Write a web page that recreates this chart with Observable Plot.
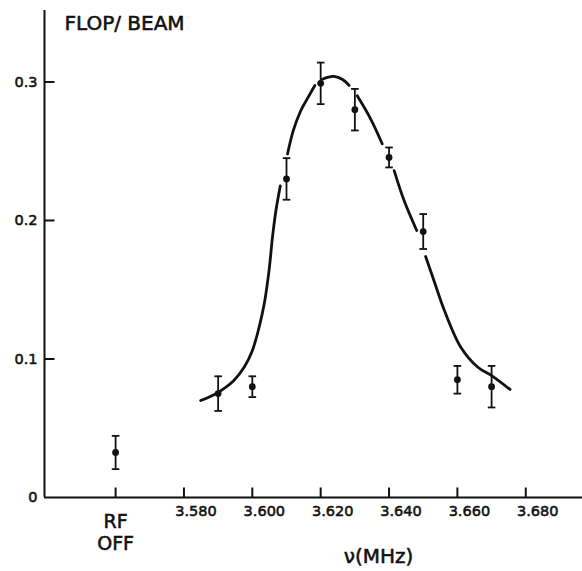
<!DOCTYPE html>
<html><head><meta charset="utf-8">
<script src="https://cdn.jsdelivr.net/npm/d3@7"></script>
<script src="https://cdn.jsdelivr.net/npm/@observablehq/plot@0.6"></script>
<style>
html,body{margin:0;padding:0;background:#fff;}
#chart svg{display:block;}
#chart svg text{stroke:#111;stroke-width:0.55px;}
</style></head><body><div id="chart"></div>
<script>
// ---- data ----
const rfOffPosition = 3.560;   // where the "RF OFF" point is placed on the axis
const rfOffFlop = 0.0325;
const rfOffErr = 0.012;

const freqs = [3.590, 3.600, 3.610, 3.620, 3.630, 3.640, 3.650, 3.660, 3.670];
const flops = [0.075, 0.080, 0.230, 0.299, 0.280, 0.2455, 0.192, 0.085, 0.080];
const errs  = [0.0125, 0.0075, 0.015, 0.015, 0.015, 0.0072, 0.0126, 0.010, 0.015];

// fitted curve (null = pen lifted near a data point)
const curveFreq = [3.5849, 3.5897, 3.5946, 3.5976, 3.6000, 3.6020, 3.6035, 3.6049, 3.6059, 3.6069, 3.6082,
  3.6092, 3.6103, 3.6120, 3.6142, 3.6161, 3.6183, 3.6194, 3.6205, 3.6222, 3.6239, 3.6264, 3.6283,
  3.6295, 3.6307, 3.6346, 3.6380, 3.6398, 3.6415, 3.6444, 3.6481, 3.6494, 3.6507, 3.6535, 3.6562,
  3.6610, 3.6660, 3.6700, 3.6754];
const curveFlop = [0.070, 0.0755, 0.0845, 0.094, 0.106, 0.123, 0.140, 0.164, 0.188, 0.207, 0.225,
  null, 0.248, 0.265, 0.2794, 0.288, 0.2975, null, 0.302, 0.3035, 0.304, 0.3018, 0.2975,
  null, 0.290, 0.2734, 0.2554, null, 0.236, 0.2144, 0.1928, null, 0.174, 0.154, 0.135,
  0.1085, 0.094, 0.088, 0.078];

const xTickValues = [3.580, 3.600, 3.620, 3.640, 3.660, 3.680];
const xTickLabels = ["3.580", "3.600", "3.620", "3.640", "3.660", "3.680"];
const yTickValues = [0, 0.1, 0.2, 0.3];
const yTickLabels = ["0", "0.1", "0.2", "0.3"];
const yLabel = "FLOP/ BEAM";
const xLabel = "ν(MHz)";
const rfOffLabel = "RF\nOFF";

// ---- build tables ----
const points = freqs.map((f, i) => ({f, v: flops[i], e: errs[i]}))
  .concat([{f: rfOffPosition, v: rfOffFlop, e: rfOffErr}]);
const curve = curveFreq.map((f, i) => ({f, v: curveFlop[i]}));
const caps = points.flatMap(p => [{f: p.f, v: p.v + p.e}, {f: p.f, v: p.v - p.e}]);
const xTickAll = [rfOffPosition, ...xTickValues];
const yTickInner = yTickValues.filter(d => d > 0);

// custom symbols: horizontal cap, upward tick, rightward tick (length from r)
const capSym = {draw(ctx, size) { const w = Math.sqrt(size / Math.PI); ctx.moveTo(-w, 0); ctx.lineTo(w, 0); }};
const upSym = {draw(ctx, size) { const l = Math.sqrt(size / Math.PI); ctx.moveTo(0, 0); ctx.lineTo(0, -l); }};
const rightSym = {draw(ctx, size) { const l = Math.sqrt(size / Math.PI); ctx.moveTo(0, 0); ctx.lineTo(l, 0); }};

const xDomain = [3.5392, 3.6966];
const font = "DejaVu Sans";

const chart = Plot.plot({
  width: 582,
  height: 571,
  marginLeft: 44,
  marginRight: 0,
  marginTop: 10,
  marginBottom: 74,
  style: {fontFamily: font, color: "#111", background: "#fff"},
  x: {domain: xDomain, label: null},
  y: {domain: [0, 0.3516], label: null},
  marks: [
    // axis lines
    Plot.ruleX([xDomain[0]], {stroke: "#111", strokeWidth: 2}),
    Plot.ruleY([0], {stroke: "#111", strokeWidth: 2}),
    // inward ticks
    Plot.dot(xTickAll, {x: d => d, y: 0, symbol: upSym, r: 10, stroke: "#111", strokeWidth: 2, fill: "none"}),
    Plot.dot(yTickInner, {x: xDomain[0], y: d => d, symbol: rightSym, r: 10, stroke: "#111", strokeWidth: 2, fill: "none"}),
    // tick labels
    Plot.axisX({ticks: xTickValues, tickSize: 0, tickPadding: 8, dx: 12, fontSize: 14.5,
      tickFormat: d => xTickLabels[xTickValues.indexOf(d)], label: null,
      style: {letterSpacing: "1px"}}),
    Plot.axisY({ticks: yTickValues, tickSize: 0, tickPadding: 7, fontSize: 14.5,
      tickFormat: d => yTickLabels[yTickValues.indexOf(d)], label: null,
      style: {letterSpacing: "0.8px"}}),
    Plot.text([rfOffLabel], {x: rfOffPosition, frameAnchor: "bottom", lineAnchor: "top",
      dy: 15, fontSize: 19, lineHeight: 1.15, text: d => d, fill: "#111", style: {letterSpacing: "1px"}}),
    // titles
    Plot.text([yLabel], {frameAnchor: "top-left", textAnchor: "start", lineAnchor: "top",
      dx: 20, dy: 5, fontSize: 20, text: d => d, fill: "#111", style: {letterSpacing: "1.8px"}}),
    Plot.text([xLabel], {frameAnchor: "bottom", textAnchor: "middle", lineAnchor: "top",
      dx: 65, dy: 51, fontSize: 20, text: d => d, fill: "#111", style: {letterSpacing: "1.5px"}}),
    // fitted curve
    Plot.line(curve, {x: "f", y: "v", curve: "catmull-rom", stroke: "#111", strokeWidth: 2.8}),
    // error bars
    Plot.ruleX(points, {x: "f", y1: d => d.v - d.e, y2: d => d.v + d.e, stroke: "#111", strokeWidth: 1.8}),
    Plot.dot(caps, {x: "f", y: "v", symbol: capSym, r: 3.8, stroke: "#111", strokeWidth: 1.8, fill: "none"}),
    Plot.dot(points, {x: "f", y: "v", r: 3.4, fill: "#111"})
  ]
});
document.getElementById("chart").append(chart);
</script></body></html>
